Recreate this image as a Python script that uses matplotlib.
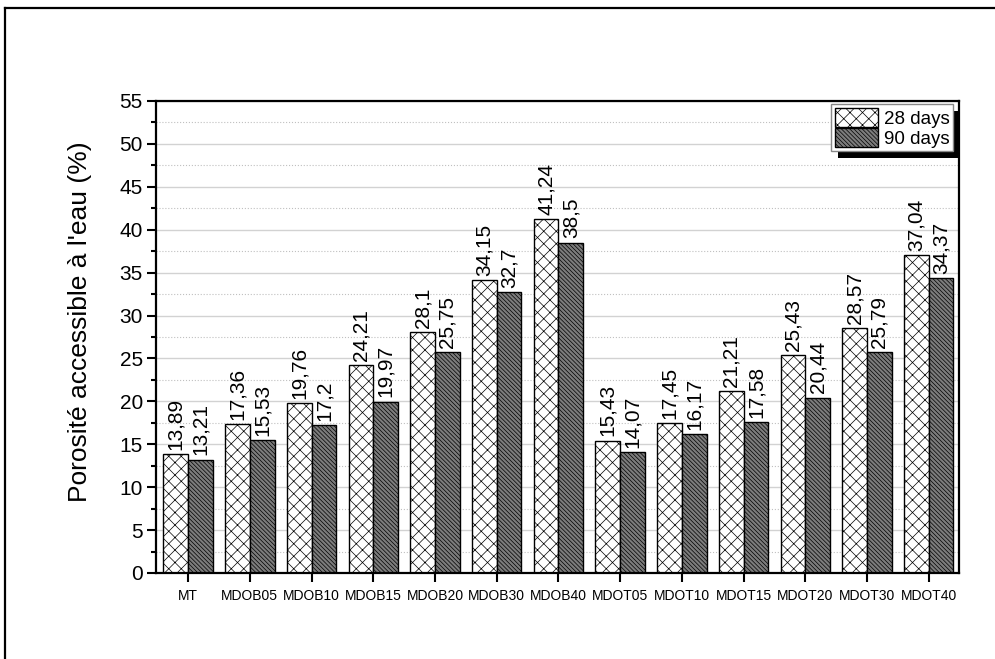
import numpy as np
import matplotlib
matplotlib.use("Agg")
from matplotlib import pyplot as plt
from matplotlib.lines import Line2D
from matplotlib.patches import Rectangle
from matplotlib.transforms import IdentityTransform
from matplotlib.ticker import MultipleLocator

DPI = 150
S = 100 / DPI   # sizes below are written as if dpi were 100

plt.rcParams['font.family'] = ['Liberation Sans', 'DejaVu Sans']
plt.rcParams['hatch.linewidth'] = 0.5 * S

#%% data
categories = ["MT", "MDOB05", "MDOB10", "MDOB15", "MDOB20", "MDOB30", "MDOB40",
              "MDOT05", "MDOT10", "MDOT15", "MDOT20", "MDOT30", "MDOT40"]
days28 = [13.89, 17.36, 19.76, 24.21, 28.1, 34.15, 41.24,
          15.43, 17.45, 21.21, 25.43, 28.57, 37.04]
days90 = [13.21, 15.53, 17.2, 19.97, 25.75, 32.7, 38.5,
          14.07, 16.17, 17.58, 20.44, 25.79, 34.37]
series_names = ["28 days", "90 days"]
ylabel = "Porosité accessible à l'eau (%)"

#%% plot
fig = plt.figure(figsize=(995 / DPI, 659 / DPI), dpi=DPI)
ax = fig.add_axes([156/995, 1-573/659, (959-156)/995, (573-101)/659])

x = np.arange(len(categories))
w = 0.40
# hatch spacing ~ dpi/(3*count) px
b1 = ax.bar(x - w/2, days28, w, color='white', edgecolor='black', hatch='xxxx',
            linewidth=1.0*S, label=series_names[0], zorder=2)
b2 = ax.bar(x + w/2, days90, w, color='#7c7c7c', edgecolor='black', hatch='\\'*12,
            linewidth=1.0*S, label=series_names[1], zorder=2)

def fmt(v):
    return f"{v:g}".replace('.', ',')

for bars, vals in [(b1, days28), (b2, days90)]:
    for r, v in zip(bars, vals):
        ax.annotate(fmt(v), (r.get_x() + r.get_width()/2, v), xytext=(0, 3*S),
                    textcoords='offset points', rotation=90, ha='center', va='bottom',
                    fontsize=15*S)

ax.set_xlim(-0.52, 12.49)
ax.set_ylim(0, 55)
ax.yaxis.set_major_locator(MultipleLocator(5))
ax.yaxis.set_minor_locator(MultipleLocator(2.5))
ax.set_xticks(x)
ax.set_xticklabels(categories, fontsize=10*S)
ax.tick_params(axis='y', which='major', length=6.5*S, width=1.5*S, labelsize=15*S,
               pad=3*S, direction='out')
ax.tick_params(axis='y', which='minor', length=3.5*S, width=1.5*S, direction='out')
ax.tick_params(axis='x', which='major', length=6.5*S, width=1.5*S, pad=5*S, direction='out')
ax.set_ylabel(ylabel, fontsize=19*S)
ax.yaxis.set_label_coords(-0.08, 0.532)

for s in ax.spines.values():
    s.set_linewidth(1.6*S)

ax.set_axisbelow(True)
ax.grid(axis='y', which='major', color='#d2d2d2', linewidth=1.0*S, linestyle='-')
ax.grid(axis='y', which='minor', color='#c0c0c0', linewidth=0.8*S, linestyle=':')

leg = ax.legend(loc='upper right', bbox_to_anchor=(953/995, 1-104/659),
                bbox_transform=fig.transFigure, fontsize=13.5*S, frameon=True,
                fancybox=False, edgecolor='#888888', framealpha=1,
                handlelength=2.3, handleheight=1.2, labelspacing=0.0,
                handletextpad=0.3, borderpad=0.2, borderaxespad=0)
leg.get_frame().set_linewidth(1.0*S)

# black drop shadow behind legend
fig.canvas.draw()
bb = leg.get_window_extent()
ax.add_patch(Rectangle((bb.x0 + 7, bb.y0 - 7), bb.width, bb.height, facecolor='black',
                       edgecolor='none', transform=IdentityTransform(), clip_on=False,
                       zorder=4.9))

# outer frame (top and left edges)
fig.add_artist(Line2D([5/995, 1], [1-8/659, 1-8/659], color='black', lw=1.6*S,
                      transform=fig.transFigure))
fig.add_artist(Line2D([5/995, 5/995], [0, 1-8/659], color='black', lw=1.6*S,
                      transform=fig.transFigure))

fig.savefig("out.png", dpi=DPI)
